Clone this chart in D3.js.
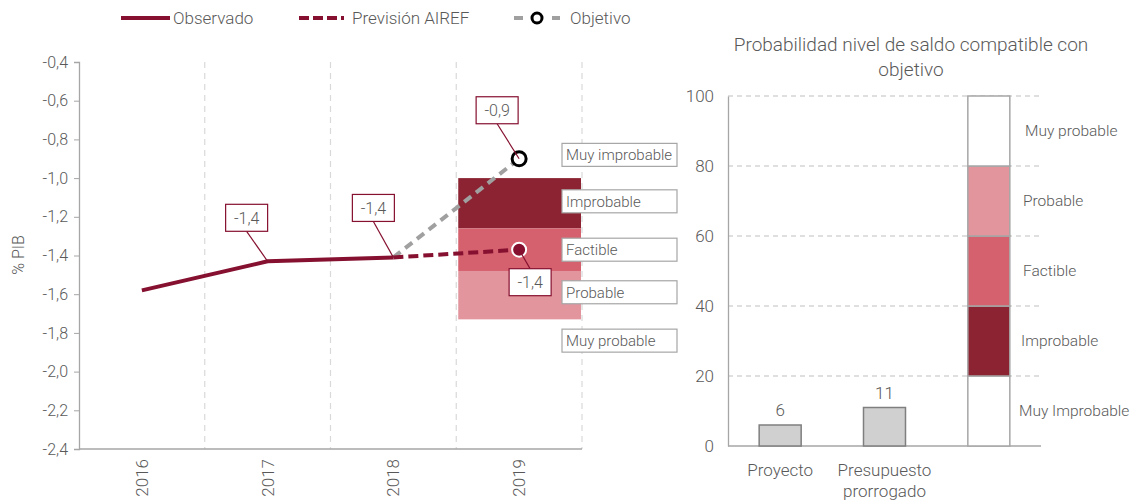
<!DOCTYPE html>
<html>
<head>
<meta charset="utf-8">
<script src="https://cdn.jsdelivr.net/npm/d3@7"></script>
<style>
  body { margin: 0; background: #fff; }
  svg { font-family: 'Roboto', sans-serif; font-weight: 300; }
  text { fill: #595959; }
</style>
</head>
<body>
<div id="chart"></div>
<script>
// left panel data
const years = ['2016', '2017', '2018', '2019'];
const observado = [-1.58, -1.43, -1.41];          // 2016-2018
const prevision = [-1.41, -1.37];                 // 2018-2019
const objetivo = [-1.41, -0.90];                  // 2018-2019
const fanBreaks = [-1.0, -1.26, -1.48, -1.73];
const fanColors = ['#8B2332', '#D5606E', '#E3959E'];
const fanLabels = ['Muy improbable', 'Improbable', 'Factible', 'Probable', 'Muy probable'];
const fanLabelValues = [-0.88, -1.12, -1.37, -1.59, -1.84];
const pointLabels = [
  { year: '2017', value: -1.43, text: '-1,4', dx: -21, dy: -30 },
  { year: '2018', value: -1.41, text: '-1,4', dx: -20, dy: -36 },
  { year: '2019', value: -0.90, text: '-0,9', dx: -22, dy: -35 },
  { year: '2019', value: -1.37, text: '-1,4', dx: 11, dy: 19 }
];
const yTicks = [-0.4, -0.6, -0.8, -1.0, -1.2, -1.4, -1.6, -1.8, -2.0, -2.2, -2.4];

// right panel data
const probCats = ['Proyecto', 'Presupuesto prorrogado', 'escala'];
const probValues = [6, 11];
const scaleBreaks = [0, 20, 40, 60, 80, 100];
const scaleColors = ['#fff', '#8B2332', '#D5606E', '#E3959E', '#fff'];
const scaleLabels = ['Muy Improbable', 'Improbable', 'Factible', 'Probable', 'Muy probable'];

const red = '#85102F';
const fmt = v => d3.format('.1f')(v).replace('.', ',').replace('−', '-');

const svg = d3.select('#chart').append('svg')
  .attr('width', 1133).attr('height', 501);

// legend
const legend = svg.append('g').attr('font-size', 17);
legend.append('line').attr('x1', 121).attr('x2', 170).attr('y1', 18).attr('y2', 18)
  .attr('stroke', red).attr('stroke-width', 4);
legend.append('text').attr('x', 173).attr('y', 24).text('Observado');
legend.append('line').attr('x1', 299).attr('x2', 344).attr('y1', 18).attr('y2', 18)
  .attr('stroke', red).attr('stroke-width', 4).attr('stroke-dasharray', '10,4');
legend.append('text').attr('x', 352).attr('y', 24).text('Previsión AIREF');
legend.append('line').attr('x1', 514).attr('x2', 560).attr('y1', 18).attr('y2', 18)
  .attr('stroke', '#A0A0A0').attr('stroke-width', 4).attr('stroke-dasharray', '9,10');
legend.append('circle').attr('cx', 537).attr('cy', 18).attr('r', 5)
  .attr('fill', '#fff').attr('stroke', '#000').attr('stroke-width', 3);
legend.append('text').attr('x', 570).attr('y', 24).text('Objetivo');

// ---------- left panel ----------
const x = d3.scaleBand().domain(years).range([79, 582]);
const y = d3.scaleLinear().domain([-2.4, -0.4]).range([449, 62]);
const cx = d => x(d) + x.bandwidth() / 2;

const left = svg.append('g');

// vertical dashed separators
left.selectAll('line.sep').data(years).enter().append('line')
  .attr('class', 'sep')
  .attr('x1', d => x(d) + x.bandwidth()).attr('x2', d => x(d) + x.bandwidth())
  .attr('y1', y(-0.4)).attr('y2', y(-2.4))
  .attr('stroke', '#D9D9D9').attr('stroke-width', 1.2).attr('stroke-dasharray', '6,5');

// fan bands for 2019
left.selectAll('rect.fan').data(fanColors).enter().append('rect')
  .attr('class', 'fan')
  .attr('x', x('2019') + 2).attr('width', x.bandwidth() - 3)
  .attr('y', (d, i) => y(fanBreaks[i]))
  .attr('height', (d, i) => y(fanBreaks[i + 1]) - y(fanBreaks[i]))
  .attr('fill', d => d);

// y axis
const yAxis = left.append('g').attr('transform', 'translate(79,0)')
  .call(d3.axisLeft(y).tickValues(yTicks).tickFormat(fmt).tickSize(5).tickPadding(6));
yAxis.select('.domain').attr('stroke', '#A6A6A6').attr('stroke-width', 1.3);
yAxis.selectAll('.tick line').attr('stroke', '#A6A6A6');
yAxis.selectAll('.tick text').attr('fill', '#595959').attr('font-size', 16)
  .attr('font-family', "'Roboto', sans-serif");

// x axis
left.append('line').attr('x1', 79).attr('x2', 582).attr('y1', 449).attr('y2', 449)
  .attr('stroke', '#A6A6A6').attr('stroke-width', 1.3);
left.selectAll('text.year').data(years).enter().append('text')
  .attr('class', 'year')
  .attr('transform', d => `translate(${cx(d)},459) rotate(-90)`)
  .attr('text-anchor', 'end').attr('dy', '0.35em').attr('font-size', 17)
  .text(d => d);

left.append('text').attr('transform', 'translate(18,255) rotate(-90)')
  .attr('text-anchor', 'middle').attr('dy', '0.35em').attr('font-size', 16)
  .text('% PIB');

// lines
const ln = d3.line().x(d => cx(d[0])).y(d => y(d[1]));
left.append('path').datum(objetivo.map((v, i) => [years[2 + i], v]))
  .attr('d', ln).attr('fill', 'none').attr('stroke', '#A0A0A0')
  .attr('stroke-width', 4).attr('stroke-dasharray', '9,6');
left.append('path').datum(prevision.map((v, i) => [years[2 + i], v]))
  .attr('d', ln).attr('fill', 'none').attr('stroke', red)
  .attr('stroke-width', 4).attr('stroke-dasharray', '10,5');
left.append('path').datum(observado.map((v, i) => [years[i], v]))
  .attr('d', ln).attr('fill', 'none').attr('stroke', red)
  .attr('stroke-width', 4).attr('stroke-linejoin', 'round');

// markers 2019
left.append('circle').attr('cx', cx('2019')).attr('cy', y(prevision[1])).attr('r', 7)
  .attr('fill', red).attr('stroke', '#fff').attr('stroke-width', 2);
left.append('circle').attr('cx', cx('2019')).attr('cy', y(objetivo[1])).attr('r', 7)
  .attr('fill', '#fff').attr('stroke', '#000').attr('stroke-width', 3);

// point labels with leader lines
const pl = left.selectAll('g.plabel').data(pointLabels).enter().append('g')
  .attr('class', 'plabel');
pl.append('line')
  .attr('x1', d => cx(d.year)).attr('y1', d => y(d.value))
  .attr('x2', d => cx(d.year) + d.dx).attr('y2', d => y(d.value) + d.dy)
  .attr('stroke', red).attr('stroke-width', 1.2);
pl.append('rect')
  .attr('x', d => cx(d.year) + d.dx - 21).attr('width', 42)
  .attr('y', d => y(d.value) + d.dy + (d.dy < 0 ? -27 : 0)).attr('height', 27)
  .attr('fill', '#fff').attr('stroke', red).attr('stroke-width', 1.2);
pl.append('text')
  .attr('x', d => cx(d.year) + d.dx).attr('y', d => y(d.value) + d.dy + (d.dy < 0 ? -13 : 14))
  .attr('dy', '0.35em').attr('text-anchor', 'middle').attr('font-size', 16)
  .text(d => d.text);

// fan labels
const fl = left.selectAll('g.flabel').data(fanLabels).enter().append('g')
  .attr('class', 'flabel')
  .attr('transform', (d, i) => `translate(562,${y(fanLabelValues[i])})`);
fl.append('rect').attr('x', 0).attr('y', -11.5).attr('width', 115).attr('height', 23)
  .attr('fill', '#fff').attr('stroke', '#A6A6A6').attr('stroke-width', 1.2);
fl.append('text').attr('x', 4).attr('dy', '0.35em').attr('font-size', 15).text(d => d);

// ---------- right panel ----------
const right = svg.append('g');
right.append('text').attr('x', 911).attr('y', 51).attr('text-anchor', 'middle')
  .attr('font-size', 19).text('Probabilidad nivel de saldo compatible con');
right.append('text').attr('x', 911).attr('y', 76).attr('text-anchor', 'middle')
  .attr('font-size', 19).text('objetivo');

const x2 = d3.scaleBand().domain(probCats).range([728, 1041]);
const y2 = d3.scaleLinear().domain([0, 100]).range([446, 96]);
const cx2 = d => x2(d) + x2.bandwidth() / 2;
const barW = 42;

right.selectAll('line.grid').data(scaleBreaks.slice(1)).enter().append('line')
  .attr('class', 'grid')
  .attr('x1', 728).attr('x2', 1041).attr('y1', d => y2(d)).attr('y2', d => y2(d))
  .attr('stroke', '#BFBFBF').attr('stroke-width', 1.2).attr('stroke-dasharray', '5,4');

const y2Axis = right.append('g').attr('transform', 'translate(728,0)')
  .call(d3.axisLeft(y2).tickValues(scaleBreaks).tickSize(0).tickPadding(14));
y2Axis.select('.domain').attr('stroke', '#A6A6A6').attr('stroke-width', 1.3);
y2Axis.selectAll('.tick text').attr('fill', '#595959').attr('font-size', 17)
  .attr('font-family', "'Roboto', sans-serif");
right.append('line').attr('x1', 728).attr('x2', 1041).attr('y1', 446).attr('y2', 446)
  .attr('stroke', '#A6A6A6').attr('stroke-width', 1.3);

right.selectAll('rect.bar').data(probValues).enter().append('rect')
  .attr('class', 'bar')
  .attr('x', (d, i) => cx2(probCats[i]) - barW / 2).attr('width', barW)
  .attr('y', d => y2(d)).attr('height', d => y2(0) - y2(d))
  .attr('fill', '#D0D0D0').attr('stroke', '#7F7F7F').attr('stroke-width', 1.5);
right.selectAll('text.val').data(probValues).enter().append('text')
  .attr('class', 'val')
  .attr('x', (d, i) => cx2(probCats[i])).attr('y', d => y2(d) - 9)
  .attr('text-anchor', 'middle').attr('font-size', 17).text(d => d);

right.selectAll('rect.scale').data(scaleColors).enter().append('rect')
  .attr('class', 'scale')
  .attr('x', cx2('escala') - barW / 2).attr('width', barW)
  .attr('y', (d, i) => y2(scaleBreaks[i + 1]))
  .attr('height', (d, i) => y2(scaleBreaks[i]) - y2(scaleBreaks[i + 1]))
  .attr('fill', d => d).attr('stroke', '#A6A6A6').attr('stroke-width', 1.5);
right.selectAll('text.slabel').data(scaleLabels).enter().append('text')
  .attr('class', 'slabel')
  .attr('x', (d, i) => [1019, 1021, 1023, 1023, 1025][i])
  .attr('y', (d, i) => y2((scaleBreaks[i] + scaleBreaks[i + 1]) / 2))
  .attr('dy', '0.35em').attr('font-size', 15.5).text(d => d);

// category labels
right.append('text').attr('x', cx2('Proyecto')).attr('y', 476)
  .attr('text-anchor', 'middle').attr('font-size', 17).text('Proyecto');
right.append('text').attr('x', cx2('Presupuesto prorrogado')).attr('y', 476)
  .attr('text-anchor', 'middle').attr('font-size', 17).text('Presupuesto');
right.append('text').attr('x', cx2('Presupuesto prorrogado')).attr('y', 497)
  .attr('text-anchor', 'middle').attr('font-size', 17).text('prorrogado');
</script>
</body>
</html>
